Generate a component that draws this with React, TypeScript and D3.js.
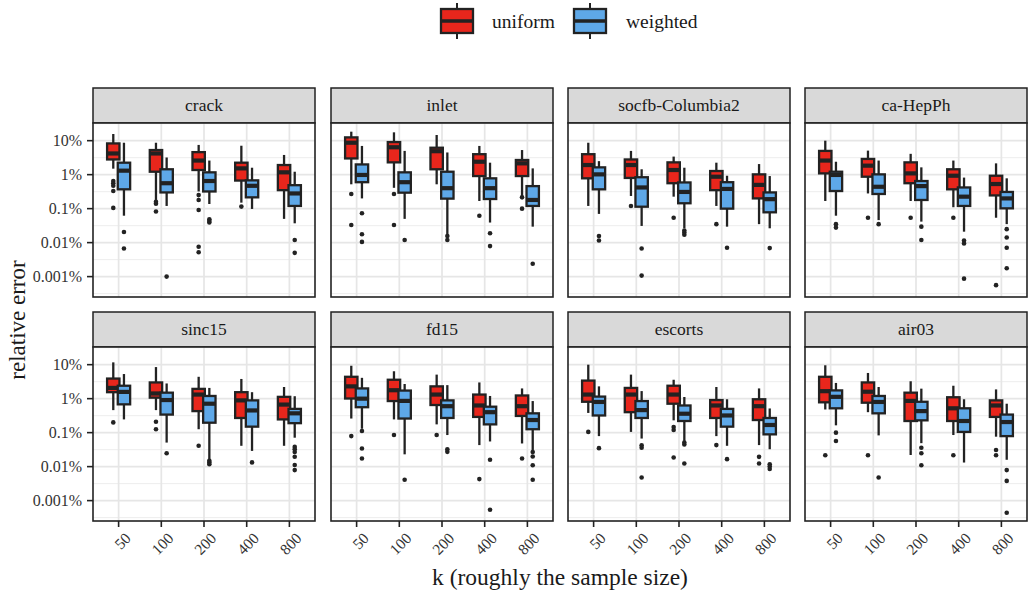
import React from "react";
import * as d3 from "d3";

const ks = ["50", "100", "200", "400", "800"];
const methods = ["uniform", "weighted"];
const panelNames = ["crack", "inlet", "socfb-Columbia2", "ca-HepPh", "sinc15", "fd15", "escorts", "air03"];
const yTicks = [10, 1, 0.1, 0.01, 0.001];
const yTickLabels = ["10%", "1%", "0.1%", "0.01%", "0.001%"];
const yMinor = [31.6, 3.16, 0.316, 0.0316, 0.00316, 0.000316];

// relative error in percent: [lower whisker, q1, median, q3, upper whisker, outliers]
type Box = [number, number, number, number, number, number[]];

const crackUniform: Box[] = [
  [1.5, 2.8, 4.2, 8.3, 15.7, [0.65, 0.56, 0.47, 0.33, 0.105]],
  [0.18, 1.22, 4.2, 5.3, 8.7, [0.16, 0.14, 0.082]],
  [0.32, 1.37, 2.6, 4.6, 7.5, [0.25, 0.18, 0.091, 0.0076, 0.0052]],
  [0.15, 0.67, 1.53, 2.25, 7.1, [0.115]],
  [0.05, 0.35, 1.17, 1.92, 3.8, []],
];
const crackWeighted: Box[] = [
  [0.062, 0.37, 1.31, 2.25, 8.7, [0.0206, 0.0067]],
  [0.12, 0.3, 0.56, 1.44, 3.2, [0.001]],
  [0.137, 0.32, 0.65, 1.17, 2.6, [0.0485, 0.043, 0.039]],
  [0.098, 0.215, 0.47, 0.68, 1.6, []],
  [0.037, 0.12, 0.28, 0.49, 1.22, [0.012, 0.005]],
];
const inletUniform: Box[] = [
  [0.52, 3.0, 8.7, 12.5, 18.4, [0.27, 0.033]],
  [0.41, 2.3, 6.4, 9.1, 17.6, [0.27, 0.033]],
  [0.52, 1.44, 4.9, 6.2, 14.7, []],
  [0.168, 0.91, 2.4, 4.0, 7.0, [0.062]],
  [0.225, 0.91, 2.15, 2.7, 5.3, [0.215, 0.1]],
];
const inletWeighted: Box[] = [
  [0.2, 0.6, 0.98, 2.0, 7.0, [0.073, 0.0176, 0.0105]],
  [0.05, 0.295, 0.6, 1.17, 5.0, [0.012]],
  [0.0168, 0.197, 0.4, 1.22, 4.5, [0.0157, 0.012]],
  [0.039, 0.192, 0.4, 0.78, 2.25, [0.0188, 0.0079]],
  [0.0295, 0.12, 0.18, 0.46, 1.53, [0.0024]],
];
const socfbUniform: Box[] = [
  [0.12, 0.78, 1.92, 4.0, 8.7, []],
  [0.236, 0.8, 1.92, 2.8, 5.0, [0.12]],
  [0.225, 0.56, 1.37, 2.3, 3.4, [0.054]],
  [0.12, 0.35, 0.87, 1.28, 2.25, [0.035]],
  [0.035, 0.2, 0.5, 1.02, 2.05, []],
];
const socfbWeighted: Box[] = [
  [0.07, 0.37, 1.02, 1.64, 2.5, [0.0157, 0.0115]],
  [0.031, 0.114, 0.42, 0.84, 1.44, [0.0067, 0.00107]],
  [0.0264, 0.144, 0.31, 0.59, 1.6, [0.0226, 0.0197, 0.0171]],
  [0.0295, 0.1, 0.38, 0.6, 0.93, [0.0071]],
  [0.0264, 0.078, 0.19, 0.3, 0.91, [0.0069]],
];
const hepUniform: Box[] = [
  [0.168, 1.09, 2.6, 5.0, 10, []],
  [0.28, 0.87, 1.84, 2.9, 5.1, [0.054]],
  [0.168, 0.56, 1.09, 2.3, 4.1, [0.054]],
  [0.11, 0.37, 0.93, 1.44, 2.6, [0.054]],
  [0.054, 0.245, 0.53, 0.93, 2.15, [0.00056]],
];
const hepWeighted: Box[] = [
  [0.062, 0.33, 0.98, 1.22, 2.4, [0.035, 0.0277]],
  [0.046, 0.27, 0.44, 1.02, 2.6, [0.035]],
  [0.0415, 0.18, 0.46, 0.65, 1.64, [0.0295, 0.012]],
  [0.021, 0.12, 0.225, 0.42, 0.82, [0.0115, 0.0095, 0.00087]],
  [0.035, 0.102, 0.2, 0.31, 0.78, [0.0249, 0.0141, 0.0071, 0.00176]],
];
const sincUniform: Box[] = [
  [0.46, 1.55, 2.07, 3.9, 11.7, [0.2]],
  [0.46, 1.07, 1.42, 3.0, 8.5, [0.21, 0.126]],
  [0.126, 0.43, 1.32, 1.94, 4.4, [0.041]],
  [0.041, 0.27, 0.89, 1.55, 3.8, []],
  [0.041, 0.245, 0.67, 1.13, 2.2, []],
];
const sincWeighted: Box[] = [
  [0.245, 0.68, 1.58, 2.4, 5.3, []],
  [0.051, 0.34, 0.91, 1.5, 2.8, [0.0248]],
  [0.0159, 0.196, 0.71, 1.2, 2.07, [0.0148, 0.0133, 0.0118]],
  [0.029, 0.15, 0.45, 0.89, 1.55, [0.0133]],
  [0.071, 0.19, 0.37, 0.5, 1.18, [0.038, 0.0325, 0.027, 0.0195, 0.0112, 0.0079]],
];
const fdUniform: Box[] = [
  [0.26, 1.01, 2.3, 4.4, 9.3, [0.079]],
  [0.245, 0.85, 1.77, 3.6, 6.4, [0.085]],
  [0.175, 0.65, 1.32, 2.3, 5.1, [0.085]],
  [0.043, 0.29, 0.63, 1.32, 3.0, [0.0043]],
  [0.048, 0.31, 0.6, 1.24, 2.0, [0.0174]],
];
const fdWeighted: Box[] = [
  [0.13, 0.56, 1.0, 2.0, 4.1, [0.112, 0.034, 0.0174]],
  [0.023, 0.26, 0.86, 1.73, 2.7, [0.0041]],
  [0.085, 0.27, 0.6, 0.89, 2.5, [0.0325, 0.0272]],
  [0.055, 0.175, 0.4, 0.58, 1.2, [0.0159, 0.00054]],
  [0.0304, 0.126, 0.235, 0.37, 0.85, [0.027, 0.0199, 0.011, 0.0041]],
];
const escortsUniform: Box[] = [
  [0.38, 0.81, 1.32, 3.4, 10, [0.105]],
  [0.105, 0.4, 1.32, 2.07, 5.1, []],
  [0.23, 0.71, 1.32, 2.4, 3.6, [0.147, 0.12, 0.0186]],
  [0.079, 0.27, 0.63, 0.91, 2.2, [0.043]],
  [0.043, 0.235, 0.6, 0.96, 2.0, [0.0194, 0.0124]],
];
const escortsWeighted: Box[] = [
  [0.079, 0.32, 0.8, 1.15, 2.3, [0.035]],
  [0.067, 0.27, 0.46, 0.85, 1.67, [0.0427, 0.036, 0.0048]],
  [0.057, 0.22, 0.36, 0.63, 1.12, [0.051, 0.045, 0.0124]],
  [0.041, 0.15, 0.32, 0.5, 0.96, [0.0166]],
  [0.0325, 0.089, 0.168, 0.27, 0.515, [0.0118, 0.0101, 0.0085]],
];
const airUniform: Box[] = [
  [0.48, 0.78, 1.66, 4.4, 9.6, [0.0217]],
  [0.4, 0.76, 1.6, 3.0, 5.7, [0.0217]],
  [0.022, 0.22, 0.86, 1.5, 3.25, []],
  [0.085, 0.22, 0.52, 1.1, 2.4, [0.0217]],
  [0.076, 0.29, 0.63, 0.89, 1.87, [0.031, 0.0217]],
];
const airWeighted: Box[] = [
  [0.164, 0.52, 1.13, 1.75, 2.9, [0.1, 0.057]],
  [0.083, 0.37, 0.8, 1.2, 2.2, [0.0048]],
  [0.049, 0.23, 0.43, 0.81, 1.97, [0.036, 0.0248, 0.011]],
  [0.0132, 0.105, 0.22, 0.52, 0.96, []],
  [0.0159, 0.079, 0.205, 0.34, 0.71, [0.0079, 0.0038, 0.00044]],
];

const panelData: Box[][][] = [
  [crackUniform, crackWeighted],
  [inletUniform, inletWeighted],
  [socfbUniform, socfbWeighted],
  [hepUniform, hepWeighted],
  [sincUniform, sincWeighted],
  [fdUniform, fdWeighted],
  [escortsUniform, escortsWeighted],
  [airUniform, airWeighted],
];

const colors = ["#e8261c", "#5ea8e8"];
const ink = "#222222";
const font = "'Liberation Serif', 'DejaVu Serif', serif";

const panelX = [93, 331, 568, 805];
const panelW = 222;
const stripTop = [88, 312];
const stripH = 35;
const bodyH = 174;

const y = d3.scaleLog().domain([Math.pow(10, -3.6), Math.pow(10, 1.52)]).range([bodyH, 0]);
const x = d3.scalePoint<string>().domain(ks).range([0, panelW]).padding(0.6);
const step = x.step();
const dodge = step * 0.125;
const boxW = step * 0.29;

function Panel({ idx }: { idx: number }) {
  const row = Math.floor(idx / 4);
  const col = idx % 4;
  const x0 = panelX[col];
  const top = stripTop[row] + stripH;
  return (
    <g>
      <rect x={x0} y={stripTop[row]} width={panelW} height={stripH} fill="#d9d9d9" stroke={ink} strokeWidth={1.5} />
      <text x={x0 + panelW / 2} y={stripTop[row] + stripH / 2 + 5.5} textAnchor="middle" fontSize={17.5} fill="#1a1a1a">
        {panelNames[idx]}
      </text>
      <g transform={`translate(${x0},${top})`}>
        <rect width={panelW} height={bodyH} fill="#fff" />
        {yMinor.map((v) => (
          <line key={"mn" + v} x1={0} x2={panelW} y1={y(v)} y2={y(v)} stroke="#ebebeb" strokeWidth={0.9} />
        ))}
        {yTicks.map((v) => (
          <line key={"mj" + v} x1={0} x2={panelW} y1={y(v)} y2={y(v)} stroke="#e6e6e6" strokeWidth={1.7} />
        ))}
        {ks.map((k) => (
          <line key={"vx" + k} x1={x(k)} x2={x(k)} y1={0} y2={bodyH} stroke="#e6e6e6" strokeWidth={1.7} />
        ))}
        {ks.map((k, j) =>
          methods.map((m, mi) => {
            const b = panelData[idx][mi][j];
            const cx = (x(k) as number) + (mi === 0 ? -dodge : dodge);
            return (
              <g key={k + m}>
                {b[5].map((o, oi) => (
                  <circle key={oi} cx={cx} cy={y(o)} r={2.3} fill={ink} />
                ))}
                <line x1={cx} x2={cx} y1={y(b[0])} y2={y(b[4])} stroke={ink} strokeWidth={2.3} />
                <rect
                  x={cx - boxW / 2}
                  y={y(b[3])}
                  width={boxW}
                  height={y(b[1]) - y(b[3])}
                  fill={colors[mi]}
                  stroke={ink}
                  strokeWidth={2.3}
                />
                <line x1={cx - boxW / 2} x2={cx + boxW / 2} y1={y(b[2])} y2={y(b[2])} stroke={ink} strokeWidth={4.2} />
              </g>
            );
          })
        )}
        <rect width={panelW} height={bodyH} fill="none" stroke={ink} strokeWidth={1.6} />
        {col === 0 &&
          yTicks.map((v, i) => (
            <g key={"yt" + v}>
              <line x1={-6} x2={0} y1={y(v)} y2={y(v)} stroke={ink} strokeWidth={1.6} />
              <text x={-11} y={y(v) + 5.5} textAnchor="end" fontSize={16} fill="#333">
                {yTickLabels[i]}
              </text>
            </g>
          ))}
        {row === 1 &&
          ks.map((k) => (
            <g key={"xt" + k}>
              <line x1={x(k)} x2={x(k)} y1={bodyH} y2={bodyH + 6} stroke={ink} strokeWidth={1.6} />
              <text
                transform={`translate(${(x(k) as number) + 5},${bodyH + 10}) rotate(-45)`}
                textAnchor="end"
                dy="0.75em"
                fontSize={15.5}
                fill="#333"
              >
                {k}
              </text>
            </g>
          ))}
      </g>
    </g>
  );
}

function LegendKey({ x0, fill }: { x0: number; fill: string }) {
  return (
    <g>
      <line x1={x0 + 17} x2={x0 + 17} y1={3} y2={39} stroke={ink} strokeWidth={2} />
      <rect x={x0 + 1} y={9} width={32} height={24} fill={fill} stroke={ink} strokeWidth={2.3} />
      <line x1={x0 + 1} x2={x0 + 33} y1={21} y2={21} stroke={ink} strokeWidth={3.5} />
    </g>
  );
}

export default function App() {
  return (
    <svg
      width={1028}
      height={593}
      style={{ position: "absolute", left: 0, top: 0, background: "#fff", fontFamily: font }}
    >
      <LegendKey x0={440} fill={colors[0]} />
      <text x={492} y={28} fontSize={19.5} fill="#1a1a1a">
        {methods[0]}
      </text>
      <LegendKey x0={573} fill={colors[1]} />
      <text x={626} y={28} fontSize={19.5} fill="#1a1a1a">
        {methods[1]}
      </text>
      {panelNames.map((_, i) => (
        <Panel key={i} idx={i} />
      ))}
      <text
        transform="translate(25,320) rotate(-90)"
        textAnchor="middle"
        fontSize={23}
        fill="#1a1a1a"
      >
        relative error
      </text>
      <text x={560} y={585} textAnchor="middle" fontSize={23.5} fill="#1a1a1a">
        k (roughly the sample size)
      </text>
    </svg>
  );
}
